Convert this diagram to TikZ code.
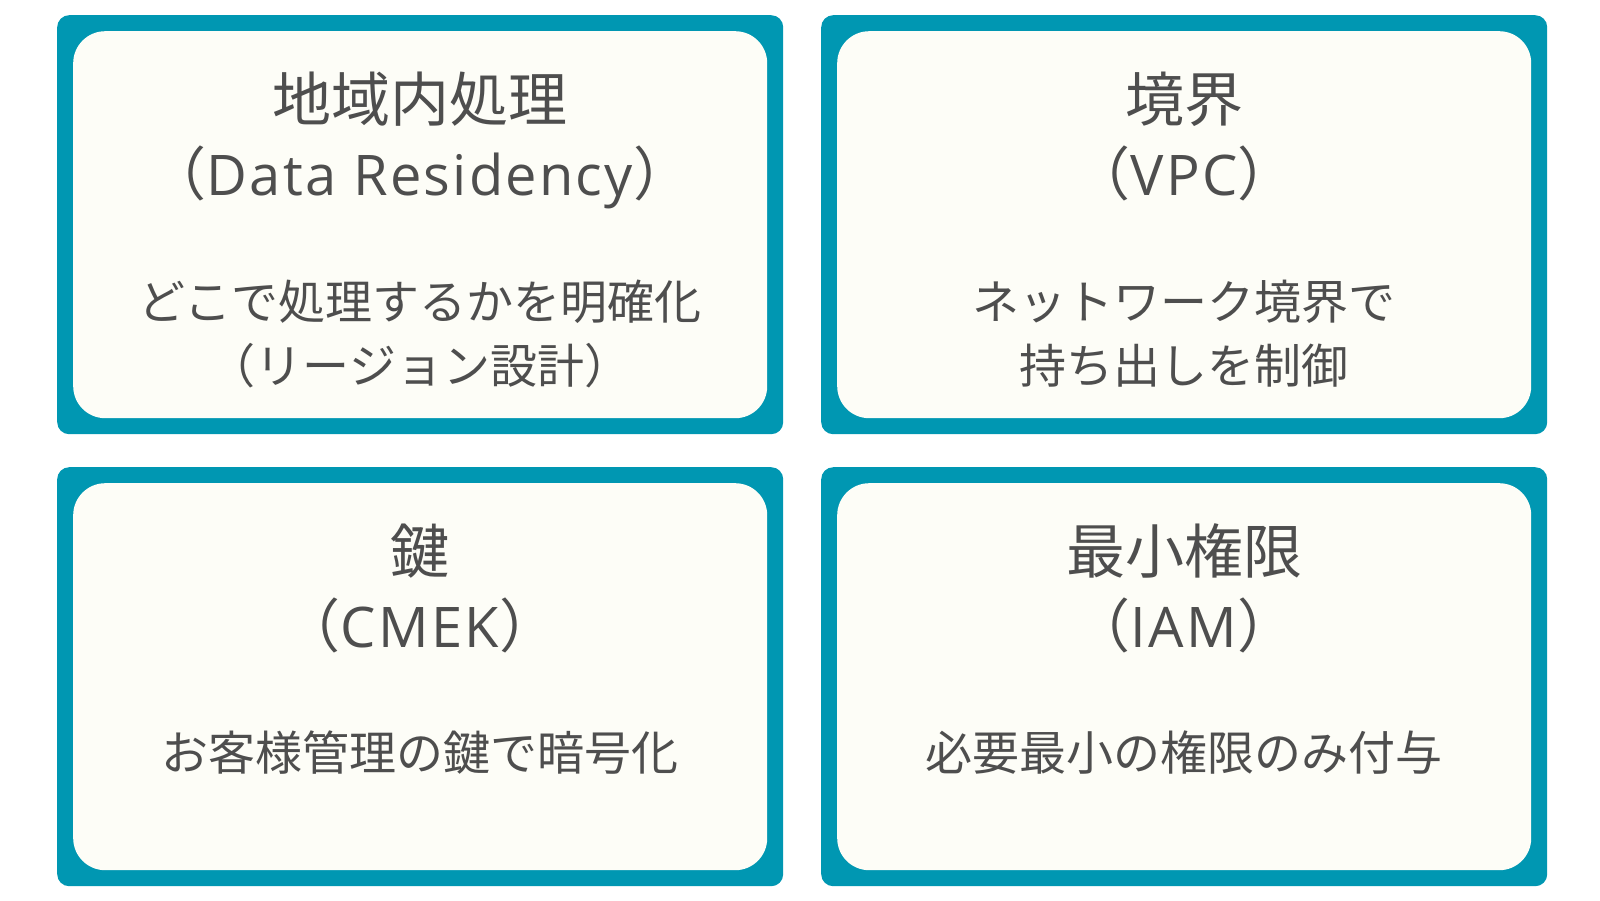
\documentclass[tikz,border=0pt]{standalone}
\usepackage{fontspec}
\newfontfamily\cjk{Noto Sans CJK JP}
\newfontfamily\lat[LetterSpace=4]{Open Sans}
\definecolor{teal1}{RGB}{0,151,178}
\definecolor{paper}{RGB}{253,253,247}
\definecolor{ink}{RGB}{78,78,78}
\tikzset{
  outerbox/.style={fill=teal1, draw=none, rounded corners=12pt, minimum width=726pt, minimum height=419pt, anchor=north west, inner sep=0pt},
  innerbox/.style={fill=paper, draw=none, rounded corners=32pt, minimum width=694pt, minimum height=387pt, inner sep=0pt},
  ttl/.style={anchor=base, inner sep=0pt, text=ink, font=\cjk\fontsize{59}{70}\selectfont},
  sub/.style={anchor=base, inner sep=0pt, text=ink, font=\cjk\fontsize{58}{70}\selectfont},
  desc/.style={anchor=base, inner sep=0pt, text=ink, font=\cjk\fontsize{47}{56}\selectfont},
}
\newcommand\lt[1]{{\lat\fontsize{56}{70}\selectfont #1}}
\begin{document}
\begin{tikzpicture}[x=1pt,y=-1pt]
\useasboundingbox (0,0) rectangle (1600,900);
% top-left
\node[outerbox] (tlo) at (57,15) {};
\node[innerbox] (tli) at (tlo.center) {};
\node[ttl] (tlt) at (420,121) {地域内処理};
\node[sub] (tls) at (420,195) {（\lt{Data Residency}）};
\node[desc] (tld1) at (420,319) {どこで処理するかを明確化};
\node[desc] (tld2) at (420,383) {（リージョン設計）};
% top-right
\node[outerbox] (tro) at (821,15) {};
\node[innerbox] (tri) at (tro.center) {};
\node[ttl] (trt) at (1184,121) {境界};
\node[sub] (trs) at (1184,195) {（\lt{VPC}）};
\node[desc] (trd1) at (1184,319) {ネットワーク境界で};
\node[desc] (trd2) at (1184,383) {持ち出しを制御};
% bottom-left
\node[outerbox] (blo) at (57,467) {};
\node[innerbox] (bli) at (blo.center) {};
\node[ttl] (blt) at (420,573) {鍵};
\node[sub] (bls) at (420,647) {（\lt{CMEK}）};
\node[desc] (bld1) at (420,770) {お客様管理の鍵で暗号化};
% bottom-right
\node[outerbox] (bro) at (821,467) {};
\node[innerbox] (bri) at (bro.center) {};
\node[ttl] (brt) at (1184,573) {最小権限};
\node[sub] (brs) at (1184,647) {（\lt{IAM}）};
\node[desc] (brd1) at (1184,770) {必要最小の権限のみ付与};
\end{tikzpicture}
\end{document}
